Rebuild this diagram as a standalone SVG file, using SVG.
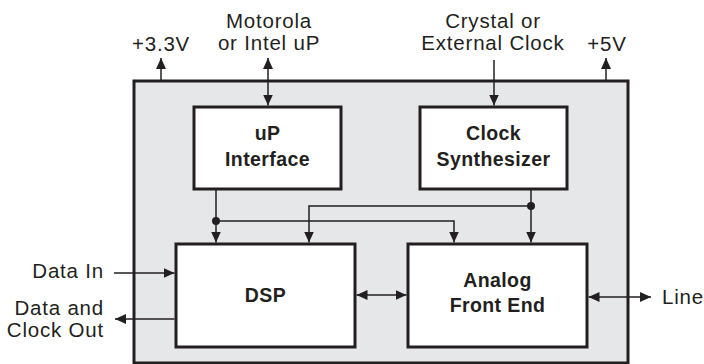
<svg xmlns="http://www.w3.org/2000/svg" width="704" height="364" viewBox="0 0 704 364">
<style>
  .lbl { font-family: "Liberation Sans", Arial, sans-serif; font-size: 20.5px; fill: #231f20; letter-spacing: 0.8px; }
  .blk { font-family: "Liberation Sans", Arial, sans-serif; font-size: 19.5px; font-weight: bold; fill: #231f20; text-anchor: middle; letter-spacing: 0.4px; }
  .box { fill: #ffffff; stroke: #231f20; stroke-width: 3; }
  .wire { fill: none; stroke: #231f20; stroke-width: 1.5; }
</style>
<defs>
  <marker id="ah" markerUnits="userSpaceOnUse" markerWidth="12" markerHeight="11" refX="11" refY="5" orient="auto-start-reverse">
    <path d="M0,0 L11,5 L0,10 z" fill="#231f20"/>
  </marker>
</defs>
<rect width="704" height="364" fill="#ffffff"/>
<g id="chip">
  <rect x="134" y="81" width="494" height="282" fill="#e6e7e8" stroke="#231f20" stroke-width="3"/>
</g>
<g id="up-interface">
  <rect class="box" x="194" y="107" width="147" height="82"/>
  <text class="blk" x="267.5" y="140">uP</text>
  <text class="blk" x="267.5" y="166">Interface</text>
</g>
<g id="clock-synth">
  <rect class="box" x="420" y="107" width="147" height="82"/>
  <text class="blk" x="493.5" y="140">Clock</text>
  <text class="blk" x="493.5" y="166">Synthesizer</text>
</g>
<g id="dsp">
  <rect class="box" x="176" y="244" width="179" height="103"/>
  <text class="blk" x="265.5" y="302">DSP</text>
</g>
<g id="afe">
  <rect class="box" x="408" y="244" width="179" height="103"/>
  <text class="blk" x="497.5" y="287">Analog</text>
  <text class="blk" x="497.5" y="312">Front End</text>
</g>
<g id="labels">
  <text class="lbl" x="161" y="51" text-anchor="middle">+3.3V</text>
  <text class="lbl" x="269" y="28" text-anchor="middle">Motorola</text>
  <text class="lbl" x="269" y="50" text-anchor="middle">or Intel uP</text>
  <text class="lbl" x="493" y="28" text-anchor="middle">Crystal or</text>
  <text class="lbl" x="493" y="50" text-anchor="middle">External Clock</text>
  <text class="lbl" x="607" y="51" text-anchor="middle">+5V</text>
  <text class="lbl" x="104" y="278" text-anchor="end">Data In</text>
  <text class="lbl" x="104" y="315" text-anchor="end">Data and</text>
  <text class="lbl" x="104" y="337" text-anchor="end">Clock Out</text>
  <text class="lbl" x="662" y="304">Line</text>
</g>
<g id="connectors">
  <line class="wire" x1="161" y1="81" x2="161" y2="58" marker-end="url(#ah)"/>
  <line class="wire" x1="606" y1="81" x2="606" y2="58" marker-end="url(#ah)"/>
  <line class="wire" x1="268" y1="58" x2="268" y2="105.5" marker-start="url(#ah)" marker-end="url(#ah)"/>
  <line class="wire" x1="494" y1="60" x2="494" y2="105.5" marker-end="url(#ah)"/>
  <line class="wire" x1="216" y1="190" x2="216" y2="242.5" marker-end="url(#ah)"/>
  <path class="wire" d="M216,221 H454 V242.5" marker-end="url(#ah)"/>
  <line class="wire" x1="531" y1="190" x2="531" y2="242.5" marker-end="url(#ah)"/>
  <path class="wire" d="M531,206 H309 V242.5" marker-end="url(#ah)"/>
  <circle cx="216" cy="221" r="4" fill="#231f20"/>
  <circle cx="531" cy="206" r="4" fill="#231f20"/>
  <line class="wire" x1="114" y1="273" x2="174.5" y2="273" marker-end="url(#ah)"/>
  <line class="wire" x1="174.5" y1="319" x2="115" y2="319" marker-end="url(#ah)"/>
  <line class="wire" x1="356.5" y1="295" x2="406.5" y2="295" marker-start="url(#ah)" marker-end="url(#ah)"/>
  <line class="wire" x1="588.5" y1="297" x2="651" y2="297" marker-start="url(#ah)" marker-end="url(#ah)"/>
</g>
</svg>
